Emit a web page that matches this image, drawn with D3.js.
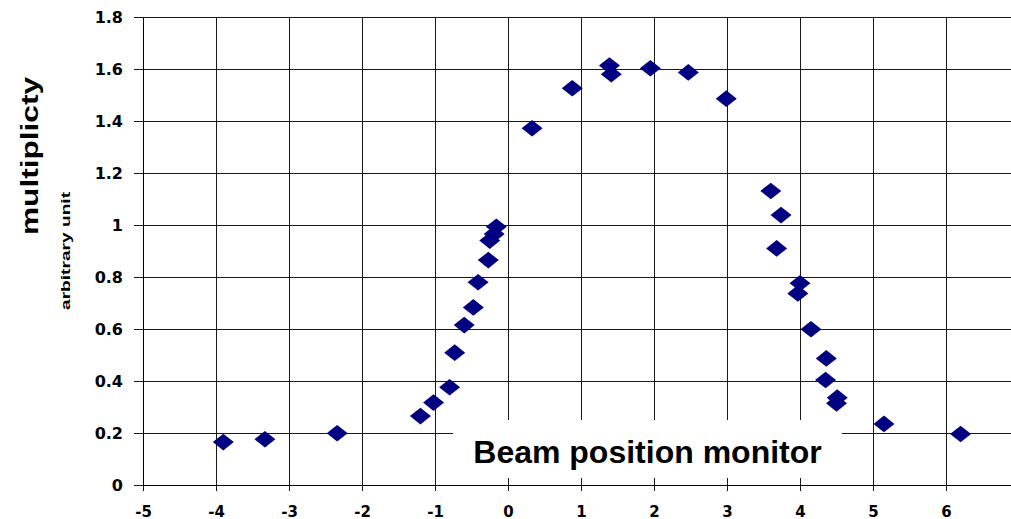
<!DOCTYPE html>
<html>
<head>
<meta charset="utf-8">
<script src="https://cdn.jsdelivr.net/npm/d3@7"></script>
<style>
  body { margin: 0; background: #fff; }
  svg { display: block; }
</style>
</head>
<body>
<div id="chart"></div>
<script>
var beamPos = [-3.90, -3.33, -2.34, -1.20, -1.02, -0.80, -0.73, -0.60, -0.475, -0.41,
               -0.27, -0.25, -0.19, -0.16, 0.33, 0.88, 1.39, 1.415, 1.95, 2.47,
               2.99, 3.60, 3.74, 3.68, 4.00, 3.97, 4.15, 4.36, 4.35, 4.51,
               4.50, 5.15, 6.20];
var multiplicity = [0.165, 0.176, 0.199, 0.265, 0.317, 0.376, 0.509, 0.615, 0.683, 0.780,
                    0.865, 0.940, 0.965, 0.993, 1.372, 1.526, 1.613, 1.580, 1.603, 1.587,
                    1.486, 1.131, 1.038, 0.910, 0.776, 0.737, 0.599, 0.487, 0.404, 0.336,
                    0.314, 0.235, 0.196];

var xTicks = [-5, -4, -3, -2, -1, 0, 1, 2, 3, 4, 5, 6, 7];
var yTicks = [0, 0.2, 0.4, 0.6, 0.8, 1, 1.2, 1.4, 1.6, 1.8];

var width = 1011, height = 519;

var svg = d3.select("#chart").append("svg")
    .attr("width", width)
    .attr("height", height);

var x = d3.scaleLinear().domain([-5, 7]).range([143, 1019]);
var y = d3.scaleLinear().domain([0, 1.8]).range([485, 17]);

var tickFont = "'DejaVu Sans', sans-serif";

// grid
var grid = svg.append("g").attr("shape-rendering", "crispEdges");
grid.selectAll("line.h")
    .data(yTicks.slice(1))
    .enter().append("line")
    .attr("class", "h")
    .attr("x1", x(-5)).attr("x2", width)
    .attr("y1", function (d) { return y(d); })
    .attr("y2", function (d) { return y(d); })
    .attr("stroke", "#1a1a1a");
grid.selectAll("line.v")
    .data(xTicks.slice(1))
    .enter().append("line")
    .attr("class", "v")
    .attr("x1", function (d) { return x(d); })
    .attr("x2", function (d) { return x(d); })
    .attr("y1", y(1.8)).attr("y2", y(0))
    .attr("stroke", "#1a1a1a");

// axes - plain hyphen for negatives like the original
var yAxis = d3.axisLeft(y).tickValues(yTicks)
    .tickFormat(function (d) { return String(+d.toFixed(1)); })
    .tickSize(9).tickSizeOuter(0).tickPadding(11);
var xAxis = d3.axisBottom(x).tickValues(xTicks)
    .tickFormat(function (d) { return String(d); })
    .tickSize(6).tickSizeOuter(0).tickPadding(15);

var gy = svg.append("g")
    .attr("transform", "translate(" + x(-5) + ",0)")
    .attr("shape-rendering", "crispEdges")
    .call(yAxis);
var gx = svg.append("g")
    .attr("transform", "translate(0," + y(0) + ")")
    .attr("shape-rendering", "crispEdges")
    .call(xAxis);

[gx, gy].forEach(function (g) {
  g.select(".domain").attr("stroke", "#000");
  g.selectAll(".tick line").attr("stroke", "#1a1a1a");
  g.selectAll(".tick text")
      .attr("fill", "#000")
      .style("font-family", tickFont)
      .style("font-weight", "bold")
      .style("font-size", "16px");
});
gx.selectAll(".tick text").style("font-size", "15px");
// y axis line runs down past the x axis to the -5 tick
gy.select(".domain").attr("d", "M0," + y(1.8) + "V" + (y(0) + 6));

// points
var diamond = "M0,-8.3L10.5,0L0,8.3L-10.5,0Z";
svg.append("g").selectAll("path")
    .data(beamPos.map(function (v, i) { return [v, multiplicity[i]]; }))
    .enter().append("path")
    .attr("d", diamond)
    .attr("transform", function (d) {
      return "translate(" + x(d[0]) + "," + y(d[1]) + ")";
    })
    .attr("fill", "#000080");

// x title box
svg.append("rect")
    .attr("x", 453).attr("y", 420)
    .attr("width", 389).attr("height", 58)
    .attr("fill", "#fff");
svg.append("text")
    .attr("x", 647.5).attr("y", 463)
    .attr("text-anchor", "middle")
    .style("font-family", "'Liberation Sans', Arial, sans-serif")
    .style("font-weight", "bold")
    .style("font-size", "32px")
    .text("Beam position monitor");

// y titles
svg.append("text")
    .attr("transform", "translate(37.5,156) rotate(-90)")
    .attr("text-anchor", "middle")
    .attr("textLength", 158)
    .attr("lengthAdjust", "spacingAndGlyphs")
    .style("font-family", "'Liberation Sans', Arial, sans-serif")
    .style("font-weight", "bold")
    .style("font-size", "24px")
    .text("multiplicty");
svg.append("text")
    .attr("transform", "translate(69.5,251) rotate(-90)")
    .attr("text-anchor", "middle")
    .attr("textLength", 118)
    .attr("lengthAdjust", "spacingAndGlyphs")
    .style("font-family", "'Liberation Sans', Arial, sans-serif")
    .style("font-weight", "bold")
    .style("font-size", "12px")
    .text("arbitrary unit");
</script>
</body>
</html>
